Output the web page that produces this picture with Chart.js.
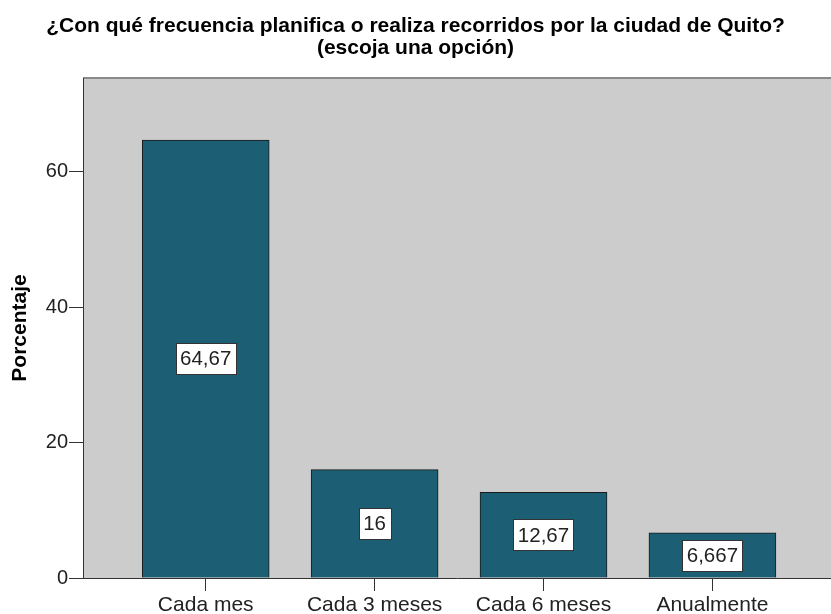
<!DOCTYPE html>
<html>
<head>
<meta charset="utf-8">
<script src="https://cdn.jsdelivr.net/npm/chart.js@4.4.1/dist/chart.umd.min.js"></script>
<style>
  html, body { margin: 0; padding: 0; background: #ffffff; }
  #wrap { width: 831px; height: 614px; position: relative; }
</style>
</head>
<body>
<div id="wrap"><canvas id="c"></canvas></div>
<script>
const titleLines = ['¿Con qué frecuencia planifica o realiza recorridos por la ciudad de Quito?', '(escoja una opción)'];
const categories = ['Cada mes', 'Cada 3 meses', 'Cada 6 meses', 'Anualmente'];
const values = [64.67, 16, 12.67, 6.667];
const yTitle = 'Porcentaje';

const FONT = "'Liberation Sans', Arial, sans-serif";

const bgPlugin = {
  id: 'plotBg',
  beforeDraw(chart) {
    const {ctx, chartArea: a} = chart;
    ctx.save();
    ctx.fillStyle = '#cccccc';
    ctx.fillRect(a.left, a.top, a.right - a.left, a.bottom - a.top);
    ctx.fillStyle = '#8a8a8a';
    ctx.fillRect(a.left, a.top - 1, a.right - a.left, 2);
    ctx.restore();
  }
};

const labelPlugin = {
  id: 'valueBoxes',
  afterDatasetsDraw(chart) {
    const {ctx} = chart;
    const meta = chart.getDatasetMeta(0);
    ctx.save();
    ctx.font = '20.5px ' + FONT;
    ctx.textAlign = 'center';
    ctx.textBaseline = 'middle';
    meta.data.forEach((bar, i) => {
      const txt = String(values[i]).replace('.', ',');
      const w = ctx.measureText(txt).width + 9;
      const h = 31;
      const cx = bar.x;
      const cy = (bar.y + bar.base) / 2;
      const x0 = Math.round(cx - w / 2) + 0.5;
      const y0 = Math.round(cy - h / 2) + 0.5;
      ctx.fillStyle = '#ffffff';
      ctx.fillRect(x0, y0, Math.round(w), h);
      ctx.strokeStyle = '#333333';
      ctx.lineWidth = 1;
      ctx.strokeRect(x0, y0, Math.round(w), h);
      ctx.fillStyle = '#222222';
      ctx.fillText(txt, cx, cy + 1);
    });
    ctx.restore();
  }
};

new Chart(document.getElementById('c'), {
  type: 'bar',
  data: {
    datasets: [{
      data: values.map((v, i) => ({x: i, y: v})),
      backgroundColor: '#1c5e73',
      borderColor: '#1a1a1a',
      borderWidth: 1,
      barThickness: 127
    }]
  },
  options: {
    responsive: true,
    maintainAspectRatio: false,
    animation: false,
    devicePixelRatio: 1,
    layout: { padding: 0 },
    plugins: {
      legend: { display: false },
      tooltip: { enabled: false },
      title: {
        display: true,
        text: titleLines,
        color: '#000000',
        font: { family: FONT, size: 21, weight: 'bold', lineHeight: 22 / 21 },
        padding: { top: 15, bottom: 19 }
      }
    },
    scales: {
      x: {
        type: 'linear',
        offset: false,
        min: -0.7265,
        max: 3.702,
        afterFit(scale) { scale.height = 36; },
        afterBuildTicks(scale) { scale.ticks = categories.map((c, i) => ({value: i})); },
        grid: { offset: false, drawOnChartArea: false, drawTicks: true, tickLength: 13, color: '#333333', lineWidth: 1 },
        border: { display: true, color: '#333333', width: 1 },
        ticks: {
          autoSkip: false, maxRotation: 0, minRotation: 0, padding: 2,
          color: '#222222',
          font: { family: FONT, size: 21 },
          callback: (v) => categories[v]
        }
      },
      y: {
        min: 0,
        max: 73.85,
        afterFit(scale) { scale.width = 83; },
        grid: { drawOnChartArea: false, drawTicks: true, tickLength: 14, color: '#333333', lineWidth: 1 },
        border: { display: true, color: '#333333', width: 1 },
        ticks: {
          stepSize: 20, includeBounds: false, padding: 1,
          color: '#222222',
          font: { family: FONT, size: 20 }
        },
        title: {
          display: true,
          text: yTitle,
          color: '#000000',
          font: { family: FONT, size: 21, weight: 'bold', lineHeight: 1.2 },
          padding: { top: 8, bottom: 0 }
        }
      }
    }
  },
  plugins: [bgPlugin, labelPlugin]
});
</script>
</body>
</html>
